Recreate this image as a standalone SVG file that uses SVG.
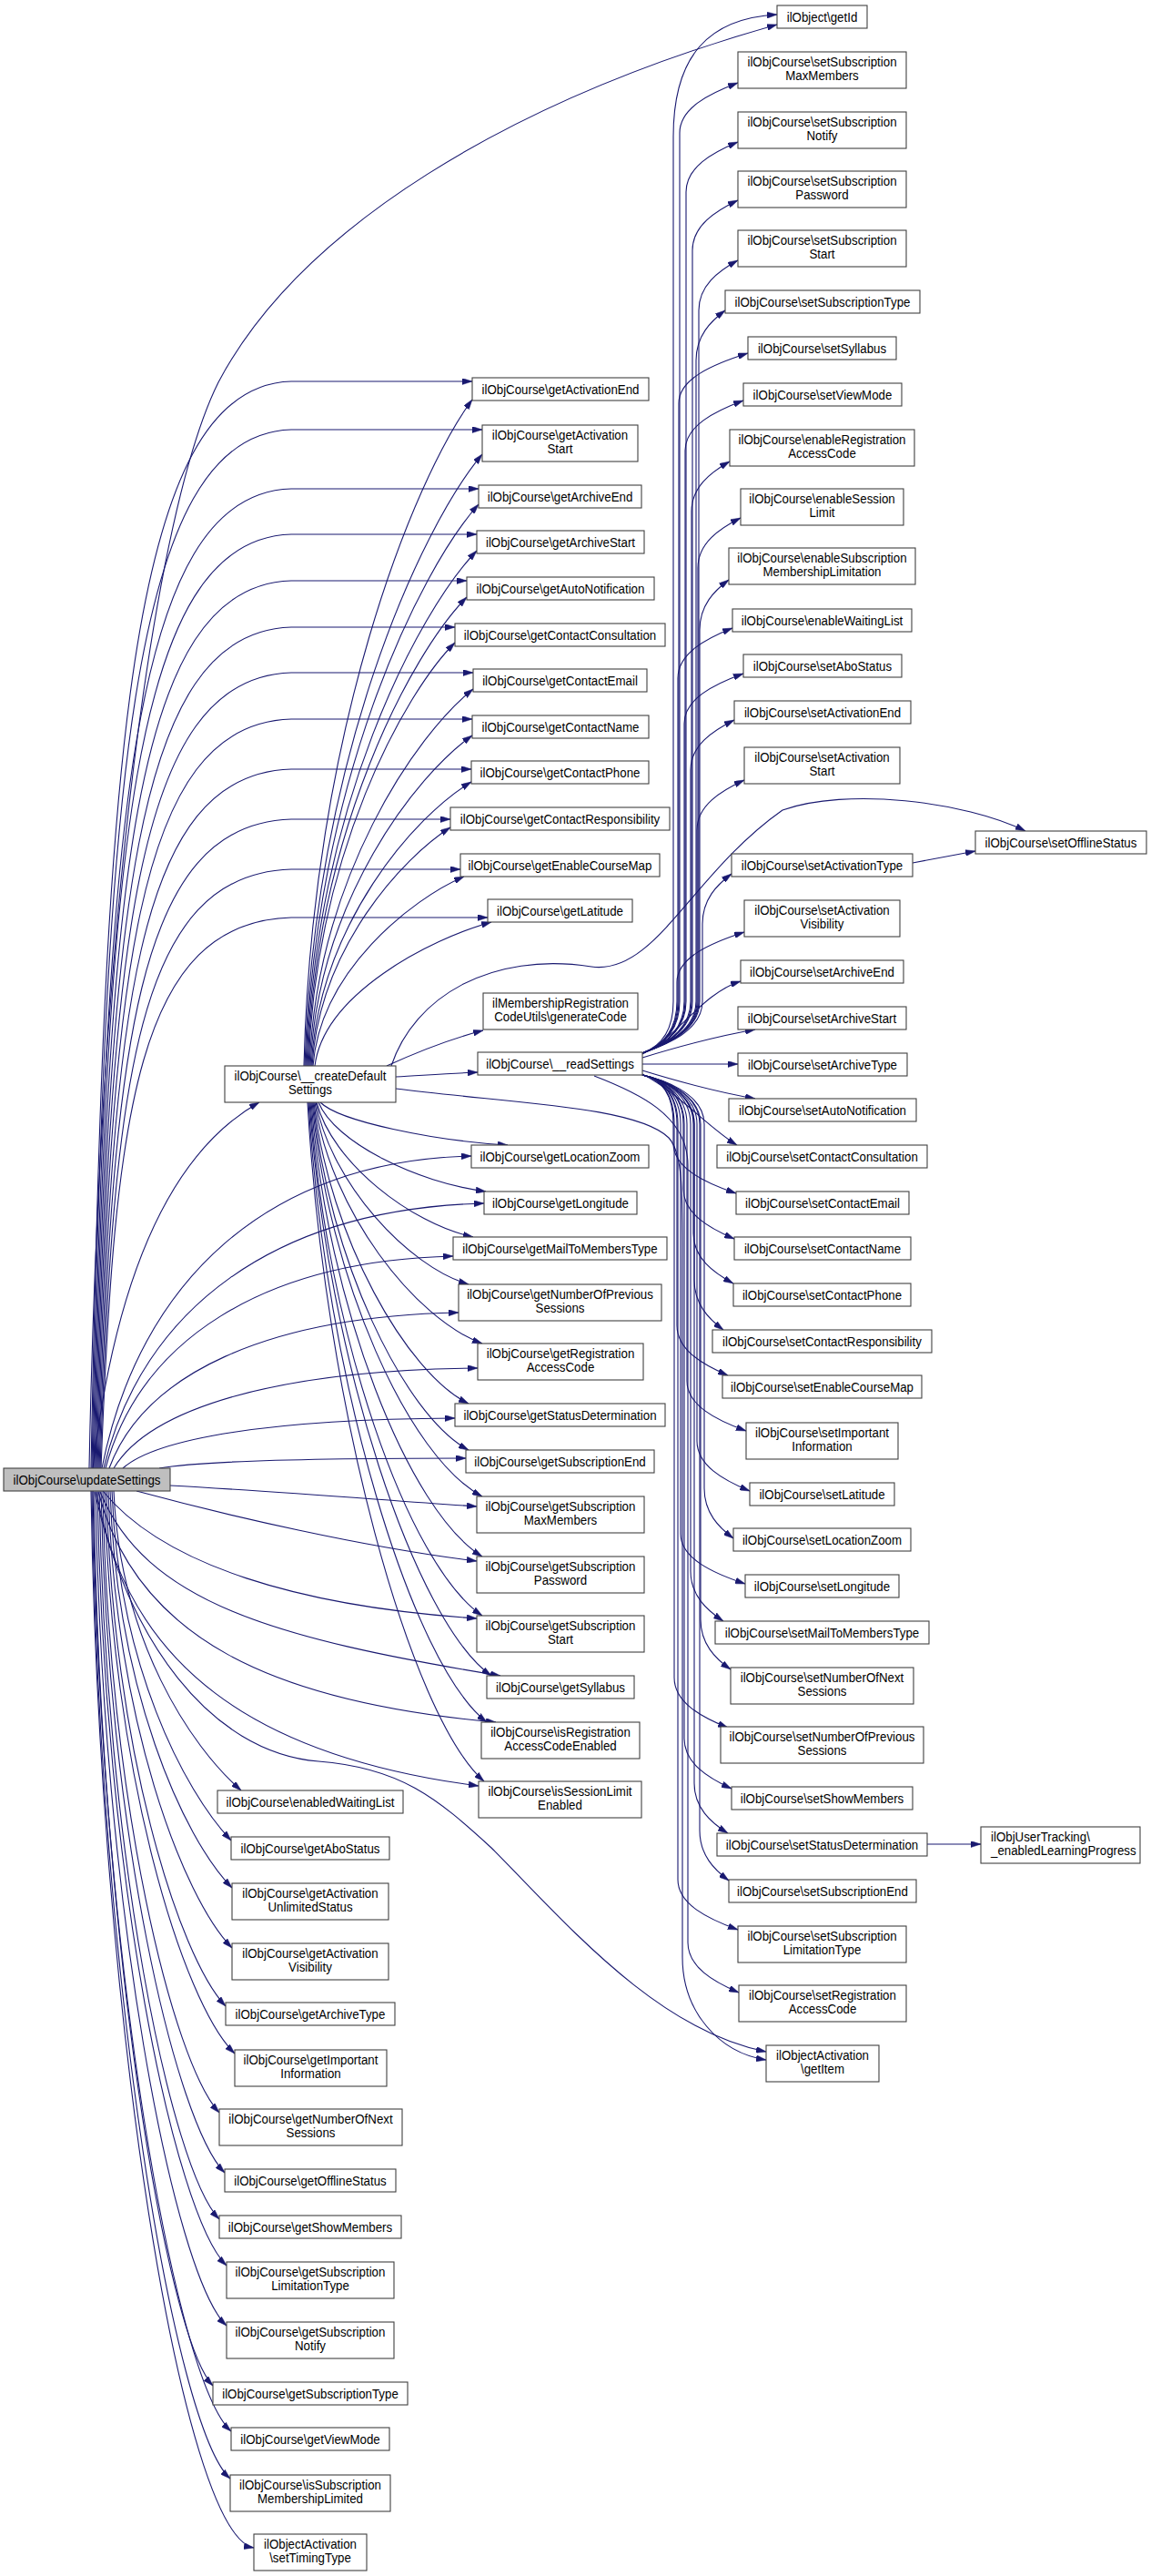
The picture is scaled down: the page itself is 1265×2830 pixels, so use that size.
<svg xmlns="http://www.w3.org/2000/svg" width="1265" height="2830" viewBox="0 0 1265 2830">
<defs>
<marker id="ah" markerWidth="11" markerHeight="7" refX="11" refY="3.5" orient="auto" markerUnits="userSpaceOnUse"><path d="M0,0 L11,3.5 L0,7 z" fill="#191970" stroke="#191970" stroke-width="0.5"/></marker>
</defs>
<style>
.n rect{fill:#fff;stroke:#404040;stroke-width:1.1}
.n.hl rect{fill:#bfbfbf}
.n text{font-family:"Liberation Sans",Arial,Helvetica,sans-serif;font-size:13.3px;fill:#000;text-anchor:middle;transform-box:fill-box;transform-origin:center;transform:scaleY(1.15)}
.n text.l{text-anchor:start}
.e path{fill:none;stroke:#191970;stroke-width:1.1;marker-end:url(#ah)}
</style>
<rect x="0" y="0" width="1265" height="2830" fill="#fff"/>
<g id="edges" class="e">
<path d="M98,1613 C110,1000 170,560 240,420 C330,250 560,110 854,27"/>
<path d="M102,1613 C125,1420 180,1270 285,1211"/>
<path d="M100,1613 C115,837 140,424 320,419 L519,419"/>
<path d="M101,1613 C116,871 141,477 320,472 L530,472"/>
<path d="M102,1613 C117,914 142,542 320,537 L526,537"/>
<path d="M103,1613 C118,946 143,592 320,587 L524,587"/>
<path d="M104,1613 C119,979 144,643 320,638 L513,638"/>
<path d="M105,1613 C120,1012 145,694 320,689 L500,689"/>
<path d="M106,1613 C121,1045 146,744 320,739 L520,739"/>
<path d="M107,1613 C122,1078 147,795 320,790 L519,790"/>
<path d="M108,1613 C123,1114 148,850 320,845 L518,845"/>
<path d="M109,1613 C124,1150 149,905 320,900 L495,900"/>
<path d="M110,1613 C125,1185 150,960 320,955 L506,955"/>
<path d="M111,1613 C126,1220 151,1013 320,1008 L536,1008"/>
<path d="M112,1613 C153,1407 295,1275 518,1270"/>
<path d="M114,1613 C156,1438 302,1328 532,1322"/>
<path d="M116,1613 C154,1473 288,1385 498,1380"/>
<path d="M120,1613 C158,1510 293,1446 504,1442"/>
<path d="M125,1613 C165,1547 305,1505 525,1503"/>
<path d="M135,1613 C172,1580 299,1559 500,1558"/>
<path d="M175,1613 C220,1605 330,1602 512,1602"/>
<path d="M187,1632 C300,1638 420,1648 524,1655"/>
<path d="M150,1638 C250,1665 400,1700 524,1715"/>
<path d="M113,1638 C180,1720 330,1765 524,1778"/>
<path d="M110,1639 C160,1760 300,1800 550,1841"/>
<path d="M108,1639 C150,1800 300,1870 545,1892"/>
<path d="M106,1639 C140,1830 280,1930 526,1962"/>
<path d="M104,1639 C140,1800 230,1925 350,1935 C440,1942 480,1975 540,2030 C620,2110 720,2230 842,2254"/>
<path d="M125,1638 C132,1802 209,1918 265,1967"/>
<path d="M123,1638 C130,1828 202,1967 254,2022"/>
<path d="M121,1638 C128,1855 201,2019 255,2074"/>
<path d="M119,1638 C126,1888 201,2085 255,2140"/>
<path d="M117,1638 C124,1920 196,2149 248,2204"/>
<path d="M115,1638 C122,1946 201,2201 258,2256"/>
<path d="M113,1638 C119,1978 190,2266 241,2321"/>
<path d="M111,1638 C118,2011 193,2332 247,2387"/>
<path d="M109,1638 C116,2037 188,2383 241,2438"/>
<path d="M107,1638 C114,2062 192,2434 249,2489"/>
<path d="M105,1638 C112,2095 191,2500 249,2555"/>
<path d="M103,1638 C110,2128 182,2566 234,2621"/>
<path d="M102,1638 C110,2153 193,2616 254,2671"/>
<path d="M101,1638 C109,2180 192,2668 253,2723"/>
<path d="M100,1638 C109,2217 200,2785 279,2799"/>
<path d="M334,1171 C343,805 454,527 519,439"/>
<path d="M335,1171 C345,835 462,580 530,499"/>
<path d="M336,1171 C346,862 460,628 526,554"/>
<path d="M337,1171 C346,888 459,673 524,605"/>
<path d="M338,1171 C347,913 452,718 513,656"/>
<path d="M339,1171 C347,938 444,762 500,706"/>
<path d="M340,1171 C349,964 457,807 520,757"/>
<path d="M341,1171 C350,989 457,852 519,808"/>
<path d="M342,1171 C351,1015 456,896 518,859"/>
<path d="M343,1171 C351,1041 443,942 495,909"/>
<path d="M344,1171 C352,1067 452,988 510,963"/>
<path d="M346,1171 C356,1092 472,1032 540,1013"/>
<path d="M352,1211 C373,1232 476,1253 558,1258"/>
<path d="M350,1211 C368,1255 458,1299 534,1309"/>
<path d="M348,1211 C365,1277 451,1344 520,1359"/>
<path d="M347,1211 C364,1300 448,1391 515,1411"/>
<path d="M346,1211 C363,1330 456,1449 530,1476"/>
<path d="M345,1211 C362,1359 447,1509 515,1542"/>
<path d="M344,1211 C361,1382 444,1555 515,1593"/>
<path d="M343,1211 C361,1405 449,1601 530,1644"/>
<path d="M342,1211 C360,1435 449,1660 530,1710"/>
<path d="M341,1211 C359,1464 448,1719 530,1775"/>
<path d="M340,1211 C360,1496 457,1782 540,1841"/>
<path d="M339,1211 C358,1519 453,1828 535,1892"/>
<path d="M338,1211 C357,1548 451,1885 532,1957"/>
<path d="M425,1171 C460,1155 500,1140 531,1132"/>
<path d="M435,1183 C470,1181 500,1179 525,1178"/>
<path d="M430,1171 C455,1095 540,1045 650,1062 C720,1072 760,960 860,890 C930,865 1060,880 1127,913"/>
<path d="M435,1196 C560,1212 700,1215 735,1250 C752,1268 750,1320 750,1400 L750,2150 C750,2210 790,2255 842,2263"/>
<path d="M706,1157 C725,1150 740,1135 740,1100 L740,150 C740,60 780,20 854,16"/>
<path d="M706,1157 C725,1150 747,1135 747,1100 L747,146 C747,119 779,103 811,91"/>
<path d="M706,1157 C725,1150 754,1135 754,1100 L754,211 C754,184 782,168 811,156"/>
<path d="M706,1157 C725,1150 761,1135 761,1100 L761,275 C761,248 786,232 811,220"/>
<path d="M706,1157 C725,1150 768,1135 768,1100 L768,341 C768,314 789,298 811,286"/>
<path d="M706,1157 C725,1150 765,1135 765,1100 L765,396 C765,369 781,353 797,341"/>
<path d="M706,1157 C725,1150 746,1135 746,1100 L746,443 C746,416 784,400 822,388"/>
<path d="M706,1157 C725,1150 753,1135 753,1100 L753,495 C753,468 785,452 817,440"/>
<path d="M706,1157 C725,1150 760,1135 760,1100 L760,562 C760,535 781,519 802,507"/>
<path d="M706,1157 C725,1150 767,1135 767,1100 L767,624 C767,597 790,581 814,569"/>
<path d="M706,1157 C725,1150 769,1135 769,1100 L769,692 C769,665 785,649 801,637"/>
<path d="M706,1157 C725,1150 745,1135 745,1100 L745,745 C745,718 775,702 805,690"/>
<path d="M706,1157 C725,1150 752,1135 752,1100 L752,795 C752,768 784,752 817,740"/>
<path d="M706,1157 C725,1150 759,1135 759,1100 L759,846 C759,819 783,803 807,791"/>
<path d="M706,1157 C725,1150 766,1135 766,1100 L766,912 C766,885 792,869 818,857"/>
<path d="M706,1157 C725,1150 772,1135 772,1100 L772,1015 C772,988 788,972 804,960"/>
<path d="M706,1157 C725,1150 744,1135 744,1100 L744,1079 C744,1052 781,1036 818,1024"/>
<path d="M706,1158 C745,1140 770,1092 814,1078"/>
<path d="M706,1162 C745,1150 790,1138 830,1131"/>
<path d="M706,1169 L811,1169"/>
<path d="M706,1176 C745,1188 790,1200 830,1207"/>
<path d="M706,1180 C745,1200 780,1240 810,1258"/>
<path d="M706,1181 C725,1185 740,1200 740,1235 L740,1256 C740,1283 774,1299 809,1311"/>
<path d="M706,1181 C725,1185 751,1200 751,1235 L751,1306 C751,1333 779,1349 807,1361"/>
<path d="M706,1181 C725,1185 762,1200 762,1235 L762,1355 C762,1382 784,1398 806,1410"/>
<path d="M706,1181 C725,1185 763,1200 763,1235 L763,1406 C763,1433 779,1449 795,1461"/>
<path d="M706,1181 C725,1185 744,1200 744,1235 L744,1456 C744,1483 772,1499 800,1511"/>
<path d="M706,1181 C725,1185 755,1200 755,1235 L755,1517 C755,1544 787,1560 820,1572"/>
<path d="M706,1181 C725,1185 766,1200 766,1235 L766,1583 C766,1610 795,1626 824,1638"/>
<path d="M706,1181 C725,1185 774,1200 774,1235 L774,1635 C774,1662 790,1678 806,1690"/>
<path d="M706,1181 C725,1185 748,1200 748,1235 L748,1685 C748,1712 783,1728 819,1740"/>
<path d="M706,1181 C725,1185 759,1200 759,1235 L759,1726 C759,1753 777,1769 795,1781"/>
<path d="M706,1181 C725,1185 770,1200 770,1235 L770,1779 C770,1806 786,1822 803,1834"/>
<path d="M706,1181 C725,1185 741,1200 741,1235 L741,1843 C741,1870 770,1886 800,1898"/>
<path d="M706,1181 C725,1185 752,1200 752,1235 L752,1910 C752,1937 778,1953 804,1965"/>
<path d="M706,1181 C725,1185 763,1200 763,1235 L763,1959 C763,1986 781,2002 800,2014"/>
<path d="M706,1181 C725,1185 769,1200 769,1235 L769,2011 C769,2038 785,2054 801,2066"/>
<path d="M706,1181 C725,1185 745,1200 745,1235 L745,2065 C745,2092 778,2108 811,2120"/>
<path d="M653,1182 C700,1200 756,1225 756,1280 L756,2134 C756,2161 784,2177 812,2189"/>
<path d="M1003,948 L1072,935"/>
<path d="M1019,2026 L1078,2026"/>
</g>
<g id="node_getId" class="n"><rect x="854" y="6" width="99" height="25"/><text x="903.5" y="23">ilObject\getId</text></g>
<g id="node_setSubMax" class="n"><rect x="811" y="57" width="185" height="40"/><text x="903.5" y="73.5">ilObjCourse\setSubscription<tspan x="903.5" dy="13">MaxMembers</tspan></text></g>
<g id="node_setSubNotify" class="n"><rect x="811" y="123" width="185" height="40"/><text x="903.5" y="139.5">ilObjCourse\setSubscription<tspan x="903.5" dy="13">Notify</tspan></text></g>
<g id="node_setSubPassword" class="n"><rect x="811" y="188" width="185" height="40"/><text x="903.5" y="204.5">ilObjCourse\setSubscription<tspan x="903.5" dy="13">Password</tspan></text></g>
<g id="node_setSubStart" class="n"><rect x="811" y="253" width="185" height="40"/><text x="903.5" y="269.5">ilObjCourse\setSubscription<tspan x="903.5" dy="13">Start</tspan></text></g>
<g id="node_setSubType" class="n"><rect x="797" y="319" width="214" height="25"/><text x="904" y="336">ilObjCourse\setSubscriptionType</text></g>
<g id="node_setSyllabus" class="n"><rect x="822" y="370" width="163" height="25"/><text x="903.5" y="387">ilObjCourse\setSyllabus</text></g>
<g id="node_setViewMode" class="n"><rect x="817" y="421" width="174" height="25"/><text x="904" y="438">ilObjCourse\setViewMode</text></g>
<g id="node_enRegAC" class="n"><rect x="802" y="472" width="203" height="40"/><text x="903.5" y="488.5">ilObjCourse\enableRegistration<tspan x="903.5" dy="13">AccessCode</tspan></text></g>
<g id="node_enSessLim" class="n"><rect x="814" y="537" width="179" height="40"/><text x="903.5" y="553.5">ilObjCourse\enableSession<tspan x="903.5" dy="13">Limit</tspan></text></g>
<g id="node_enSubML" class="n"><rect x="801" y="602" width="205" height="40"/><text x="903.5" y="618.5">ilObjCourse\enableSubscription<tspan x="903.5" dy="13">MembershipLimitation</tspan></text></g>
<g id="node_enWL" class="n"><rect x="805" y="669" width="197" height="25"/><text x="903.5" y="686">ilObjCourse\enableWaitingList</text></g>
<g id="node_setAbo" class="n"><rect x="817" y="719" width="174" height="25"/><text x="904" y="736">ilObjCourse\setAboStatus</text></g>
<g id="node_setActEnd" class="n"><rect x="807" y="770" width="194" height="25"/><text x="904" y="787">ilObjCourse\setActivationEnd</text></g>
<g id="node_setActStart" class="n"><rect x="818" y="821" width="171" height="40"/><text x="903.5" y="837.5">ilObjCourse\setActivation<tspan x="903.5" dy="13">Start</tspan></text></g>
<g id="node_setOffline" class="n"><rect x="1072" y="913" width="188" height="25"/><text x="1166" y="930">ilObjCourse\setOfflineStatus</text></g>
<g id="node_setActType" class="n"><rect x="804" y="938" width="199" height="25"/><text x="903.5" y="955">ilObjCourse\setActivationType</text></g>
<g id="node_setActVis" class="n"><rect x="818" y="989" width="171" height="40"/><text x="903.5" y="1005.5">ilObjCourse\setActivation<tspan x="903.5" dy="13">Visibility</tspan></text></g>
<g id="node_setArchEnd" class="n"><rect x="814" y="1055" width="179" height="25"/><text x="903.5" y="1072">ilObjCourse\setArchiveEnd</text></g>
<g id="node_setArchStart" class="n"><rect x="811" y="1106" width="185" height="25"/><text x="903.5" y="1123">ilObjCourse\setArchiveStart</text></g>
<g id="node_setArchType" class="n"><rect x="811" y="1157" width="186" height="25"/><text x="904" y="1174">ilObjCourse\setArchiveType</text></g>
<g id="node_setAutoNotif" class="n"><rect x="801" y="1207" width="206" height="25"/><text x="904" y="1224">ilObjCourse\setAutoNotification</text></g>
<g id="node_setContCons" class="n"><rect x="788" y="1258" width="231" height="25"/><text x="903.5" y="1275">ilObjCourse\setContactConsultation</text></g>
<g id="node_setContEmail" class="n"><rect x="809" y="1309" width="190" height="25"/><text x="904" y="1326">ilObjCourse\setContactEmail</text></g>
<g id="node_setContName" class="n"><rect x="807" y="1359" width="194" height="25"/><text x="904" y="1376">ilObjCourse\setContactName</text></g>
<g id="node_setContPhone" class="n"><rect x="806" y="1410" width="195" height="25"/><text x="903.5" y="1427">ilObjCourse\setContactPhone</text></g>
<g id="node_setContResp" class="n"><rect x="783" y="1461" width="241" height="25"/><text x="903.5" y="1478">ilObjCourse\setContactResponsibility</text></g>
<g id="node_setEnMap" class="n"><rect x="794" y="1511" width="219" height="25"/><text x="903.5" y="1528">ilObjCourse\setEnableCourseMap</text></g>
<g id="node_setImpInfo" class="n"><rect x="820" y="1563" width="167" height="40"/><text x="903.5" y="1579.5">ilObjCourse\setImportant<tspan x="903.5" dy="13">Information</tspan></text></g>
<g id="node_setLat" class="n"><rect x="824" y="1629" width="159" height="25"/><text x="903.5" y="1646">ilObjCourse\setLatitude</text></g>
<g id="node_setLocZoom" class="n"><rect x="806" y="1679" width="195" height="25"/><text x="903.5" y="1696">ilObjCourse\setLocationZoom</text></g>
<g id="node_setLong" class="n"><rect x="819" y="1730" width="169" height="25"/><text x="903.5" y="1747">ilObjCourse\setLongitude</text></g>
<g id="node_setMail" class="n"><rect x="786" y="1781" width="235" height="25"/><text x="903.5" y="1798">ilObjCourse\setMailToMembersType</text></g>
<g id="node_setNumNext" class="n"><rect x="803" y="1832" width="201" height="40"/><text x="903.5" y="1848.5">ilObjCourse\setNumberOfNext<tspan x="903.5" dy="13">Sessions</tspan></text></g>
<g id="node_setNumPrev" class="n"><rect x="792" y="1897" width="223" height="40"/><text x="903.5" y="1913.5">ilObjCourse\setNumberOfPrevious<tspan x="903.5" dy="13">Sessions</tspan></text></g>
<g id="node_setShowMem" class="n"><rect x="804" y="1963" width="199" height="25"/><text x="903.5" y="1980">ilObjCourse\setShowMembers</text></g>
<g id="node_setStatusDet" class="n"><rect x="788" y="2014" width="231" height="25"/><text x="903.5" y="2031">ilObjCourse\setStatusDetermination</text></g>
<g id="node_userTracking" class="n"><rect x="1078" y="2007" width="175" height="40"/><text class="l" x="1089" y="2023.5">ilObjUserTracking\<tspan x="1089" dy="13">_enabledLearningProgress</tspan></text></g>
<g id="node_setSubEnd" class="n"><rect x="801" y="2065" width="206" height="25"/><text x="904" y="2082">ilObjCourse\setSubscriptionEnd</text></g>
<g id="node_setSubLimType" class="n"><rect x="811" y="2116" width="185" height="40"/><text x="903.5" y="2132.5">ilObjCourse\setSubscription<tspan x="903.5" dy="13">LimitationType</tspan></text></g>
<g id="node_setRegAC" class="n"><rect x="812" y="2181" width="184" height="40"/><text x="904" y="2197.5">ilObjCourse\setRegistration<tspan x="904" dy="13">AccessCode</tspan></text></g>
<g id="node_getItem" class="n"><rect x="842" y="2247" width="124" height="40"/><text x="904" y="2263.5">ilObjectActivation<tspan x="904" dy="13">\getItem</tspan></text></g>
<g id="node_getActEnd" class="n"><rect x="519" y="415" width="194" height="25"/><text x="616" y="432">ilObjCourse\getActivationEnd</text></g>
<g id="node_getActStart" class="n"><rect x="530" y="467" width="171" height="40"/><text x="615.5" y="483.5">ilObjCourse\getActivation<tspan x="615.5" dy="13">Start</tspan></text></g>
<g id="node_getArchEnd" class="n"><rect x="526" y="533" width="179" height="25"/><text x="615.5" y="550">ilObjCourse\getArchiveEnd</text></g>
<g id="node_getArchStart" class="n"><rect x="524" y="583" width="184" height="25"/><text x="616" y="600">ilObjCourse\getArchiveStart</text></g>
<g id="node_getAutoNotif" class="n"><rect x="513" y="634" width="206" height="25"/><text x="616" y="651">ilObjCourse\getAutoNotification</text></g>
<g id="node_getContCons" class="n"><rect x="500" y="685" width="231" height="25"/><text x="615.5" y="702">ilObjCourse\getContactConsultation</text></g>
<g id="node_getContEmail" class="n"><rect x="520" y="735" width="191" height="25"/><text x="615.5" y="752">ilObjCourse\getContactEmail</text></g>
<g id="node_getContName" class="n"><rect x="519" y="786" width="194" height="25"/><text x="616" y="803">ilObjCourse\getContactName</text></g>
<g id="node_getContPhone" class="n"><rect x="518" y="836" width="195" height="25"/><text x="615.5" y="853">ilObjCourse\getContactPhone</text></g>
<g id="node_getContResp" class="n"><rect x="495" y="887" width="241" height="25"/><text x="615.5" y="904">ilObjCourse\getContactResponsibility</text></g>
<g id="node_getEnMap" class="n"><rect x="506" y="938" width="219" height="25"/><text x="615.5" y="955">ilObjCourse\getEnableCourseMap</text></g>
<g id="node_getLat" class="n"><rect x="536" y="988" width="159" height="25"/><text x="615.5" y="1005">ilObjCourse\getLatitude</text></g>
<g id="node_genCode" class="n"><rect x="531" y="1091" width="170" height="40"/><text x="616" y="1107.5">ilMembershipRegistration<tspan x="616" dy="13">CodeUtils\generateCode</tspan></text></g>
<g id="node_readSettings" class="n"><rect x="525" y="1156" width="181" height="25"/><text x="615.5" y="1173">ilObjCourse\__readSettings</text></g>
<g id="node_getLocZoom" class="n"><rect x="518" y="1258" width="195" height="25"/><text x="615.5" y="1275">ilObjCourse\getLocationZoom</text></g>
<g id="node_getLong" class="n"><rect x="532" y="1309" width="168" height="25"/><text x="616" y="1326">ilObjCourse\getLongitude</text></g>
<g id="node_getMail" class="n"><rect x="498" y="1359" width="235" height="25"/><text x="615.5" y="1376">ilObjCourse\getMailToMembersType</text></g>
<g id="node_getNumPrev" class="n"><rect x="504" y="1411" width="223" height="40"/><text x="615.5" y="1427.5">ilObjCourse\getNumberOfPrevious<tspan x="615.5" dy="13">Sessions</tspan></text></g>
<g id="node_getRegAC" class="n"><rect x="525" y="1476" width="182" height="40"/><text x="616" y="1492.5">ilObjCourse\getRegistration<tspan x="616" dy="13">AccessCode</tspan></text></g>
<g id="node_getStatusDet" class="n"><rect x="500" y="1542" width="231" height="25"/><text x="615.5" y="1559">ilObjCourse\getStatusDetermination</text></g>
<g id="node_getSubEnd" class="n"><rect x="512" y="1593" width="207" height="25"/><text x="615.5" y="1610">ilObjCourse\getSubscriptionEnd</text></g>
<g id="node_getSubMax" class="n"><rect x="524" y="1644" width="184" height="40"/><text x="616" y="1660.5">ilObjCourse\getSubscription<tspan x="616" dy="13">MaxMembers</tspan></text></g>
<g id="node_getSubPass" class="n"><rect x="524" y="1710" width="184" height="40"/><text x="616" y="1726.5">ilObjCourse\getSubscription<tspan x="616" dy="13">Password</tspan></text></g>
<g id="node_getSubStart" class="n"><rect x="524" y="1775" width="184" height="40"/><text x="616" y="1791.5">ilObjCourse\getSubscription<tspan x="616" dy="13">Start</tspan></text></g>
<g id="node_getSyllabus" class="n"><rect x="535" y="1841" width="162" height="25"/><text x="616" y="1858">ilObjCourse\getSyllabus</text></g>
<g id="node_isRegAC" class="n"><rect x="529" y="1892" width="174" height="40"/><text x="616" y="1908.5">ilObjCourse\isRegistration<tspan x="616" dy="13">AccessCodeEnabled</tspan></text></g>
<g id="node_isSessLim" class="n"><rect x="526" y="1957" width="179" height="40"/><text x="615.5" y="1973.5">ilObjCourse\isSessionLimit<tspan x="615.5" dy="13">Enabled</tspan></text></g>
<g id="node_createDefault" class="n"><rect x="247" y="1171" width="188" height="40"/><text x="341" y="1187.5">ilObjCourse\__createDefault<tspan x="341" dy="13">Settings</tspan></text></g>
<g id="node_updateSettings" class="n hl"><rect x="4" y="1613" width="183" height="25"/><text x="95.5" y="1630">ilObjCourse\updateSettings</text></g>
<g id="node_enabledWL" class="n"><rect x="239" y="1967" width="204" height="25"/><text x="341" y="1984">ilObjCourse\enabledWaitingList</text></g>
<g id="node_getAbo" class="n"><rect x="254" y="2018" width="174" height="25"/><text x="341" y="2035">ilObjCourse\getAboStatus</text></g>
<g id="node_getActUnl" class="n"><rect x="255" y="2069" width="172" height="40"/><text x="341" y="2085.5">ilObjCourse\getActivation<tspan x="341" dy="13">UnlimitedStatus</tspan></text></g>
<g id="node_getActVis" class="n"><rect x="255" y="2135" width="172" height="40"/><text x="341" y="2151.5">ilObjCourse\getActivation<tspan x="341" dy="13">Visibility</tspan></text></g>
<g id="node_getArchType" class="n"><rect x="248" y="2200" width="186" height="25"/><text x="341" y="2217">ilObjCourse\getArchiveType</text></g>
<g id="node_getImpInfo" class="n"><rect x="258" y="2252" width="167" height="40"/><text x="341.5" y="2268.5">ilObjCourse\getImportant<tspan x="341.5" dy="13">Information</tspan></text></g>
<g id="node_getNumNext" class="n"><rect x="241" y="2317" width="201" height="40"/><text x="341.5" y="2333.5">ilObjCourse\getNumberOfNext<tspan x="341.5" dy="13">Sessions</tspan></text></g>
<g id="node_getOffline" class="n"><rect x="247" y="2383" width="188" height="25"/><text x="341" y="2400">ilObjCourse\getOfflineStatus</text></g>
<g id="node_getShowMem" class="n"><rect x="241" y="2434" width="200" height="25"/><text x="341" y="2451">ilObjCourse\getShowMembers</text></g>
<g id="node_getSubLimType" class="n"><rect x="249" y="2485" width="184" height="40"/><text x="341" y="2501.5">ilObjCourse\getSubscription<tspan x="341" dy="13">LimitationType</tspan></text></g>
<g id="node_getSubNotify" class="n"><rect x="249" y="2551" width="184" height="40"/><text x="341" y="2567.5">ilObjCourse\getSubscription<tspan x="341" dy="13">Notify</tspan></text></g>
<g id="node_getSubType" class="n"><rect x="234" y="2617" width="214" height="25"/><text x="341" y="2634">ilObjCourse\getSubscriptionType</text></g>
<g id="node_getViewMode" class="n"><rect x="254" y="2667" width="174" height="25"/><text x="341" y="2684">ilObjCourse\getViewMode</text></g>
<g id="node_isSubML" class="n"><rect x="253" y="2719" width="176" height="40"/><text x="341" y="2735.5">ilObjCourse\isSubscription<tspan x="341" dy="13">MembershipLimited</tspan></text></g>
<g id="node_setTiming" class="n"><rect x="279" y="2784" width="124" height="40"/><text x="341" y="2800.5">ilObjectActivation<tspan x="341" dy="13">\setTimingType</tspan></text></g>
</svg>
